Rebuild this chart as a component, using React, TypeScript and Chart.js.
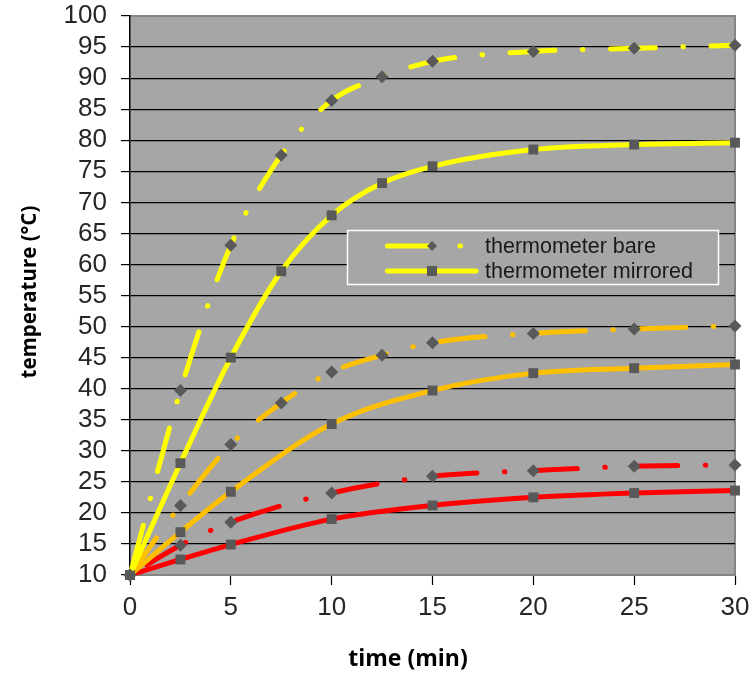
import React, { useEffect, useRef } from "react";
import { Chart, registerables } from "chart.js";

Chart.register(...registerables);

// time axis (min)
const timesFull = [0, 2.5, 5, 7.5, 10, 12.5, 15, 20, 25, 30];
const timesShort = [0, 2.5, 5, 10, 15, 20, 25, 30];

// temperatures (°C)
const yellowBare = [10, 39.7, 63.1, 77.6, 86.4, 90.2, 92.7, 94.3, 94.8, 95.3];
const yellowMirrored = [10, 28.0, 45.0, 58.9, 67.9, 73.1, 75.8, 78.5, 79.3, 79.6];
const orangeBare = [10, 21.2, 31.0, 37.7, 42.7, 45.4, 47.4, 48.9, 49.6, 50.1];
const orangeMirrored = [10, 16.9, 23.4, 34.3, 39.7, 42.5, 43.3, 43.9];
const redBare = [10, 14.8, 18.5, 23.2, 25.9, 26.8, 27.5, 27.7];
const redMirrored = [10, 12.5, 14.9, 19.0, 21.2, 22.5, 23.2, 23.6];

const xTickValues = [0, 5, 10, 15, 20, 25, 30];
const yTickValues = [10, 15, 20, 25, 30, 35, 40, 45, 50, 55, 60, 65, 70, 75, 80, 85, 90, 95, 100];

const legendLabels = ["thermometer bare", "thermometer mirrored"];
const xTitle = "time (min)";
const yTitle = "temperature (°C)";

const YELLOW = "#ffff00";
const ORANGE = "#ffc000";
const RED = "#ff0000";
const MARKER = "#595959";
const PLOT_BG = "#a6a6a6";
const BARE_DASH = [45, 27.5, 0.5, 27.5];
const DASH_PERIOD = BARE_DASH.reduce((a, b) => a + b, 0);

const pts = (xs: number[], ys: number[]) => xs.map((x, i) => ({ x, y: ys[i] }));

const bareStyle = (color: string) => ({
  borderColor: color,
  borderWidth: 5,
  borderDash: BARE_DASH,
  borderDashOffset: 0,
  borderCapStyle: "round" as const,
  pointStyle: "rectRot" as const,
  pointRadius: 6.5,
  pointBackgroundColor: MARKER,
  pointBorderColor: MARKER,
  pointBorderWidth: 0,
  cubicInterpolationMode: "monotone" as const,
  clip: false as const,
});

const mirroredStyle = (color: string) => ({
  borderColor: color,
  borderWidth: 5,
  borderCapStyle: "round" as const,
  pointStyle: "rect" as const,
  pointRadius: 7,
  pointBackgroundColor: MARKER,
  pointBorderColor: MARKER,
  pointBorderWidth: 0,
  cubicInterpolationMode: "monotone" as const,
  clip: false as const,
});

// dash phase: [dataset index, anchor point index, shift along the curve in px]
const dashAnchors: [number, number, number][] = [
  [0, 6, -22.5],
  [2, 7, 7],
  [4, 5, -1],
];

const plotFrame = {
  id: "plotFrame",
  beforeDraw(chart: any) {
    const { ctx, chartArea: a } = chart;
    ctx.save();
    ctx.fillStyle = PLOT_BG;
    ctx.fillRect(a.left, a.top, a.right - a.left, a.bottom - a.top);
    ctx.strokeStyle = "#858585";
    ctx.lineWidth = 2;
    ctx.beginPath();
    ctx.moveTo(a.left, a.top);
    ctx.lineTo(a.right, a.top);
    ctx.lineTo(a.right, a.bottom);
    ctx.stroke();
    ctx.restore();
  },
};

const axisTitles = {
  id: "axisTitles",
  afterDraw(chart: any) {
    const { ctx } = chart;
    ctx.save();
    ctx.fillStyle = "#000";
    ctx.textAlign = "center";
    ctx.textBaseline = "middle";
    ctx.font = "bold 23px 'Open Sans', sans-serif";
    ctx.fillText(xTitle, 408, 659);
    ctx.translate(30, 292);
    ctx.rotate(-Math.PI / 2);
    ctx.font = "bold 20.5px 'Open Sans', sans-serif";
    ctx.fillText(yTitle, 0, 0);
    ctx.restore();
  },
};

const boxLegend = {
  id: "boxLegend",
  afterDraw(chart: any) {
    const { ctx } = chart;
    const bx = 347.5, by = 230.5, bw = 371, bh = 54;
    ctx.save();
    ctx.fillStyle = PLOT_BG;
    ctx.fillRect(bx, by, bw, bh);
    ctx.strokeStyle = "#ffffff";
    ctx.lineWidth = 1.5;
    ctx.strokeRect(bx, by, bw, bh);
    const rows = [246, 271];
    const x0 = 387.5, x1 = 476;
    const mx = 432;
    rows.forEach((ry, i) => {
      ctx.strokeStyle = YELLOW;
      ctx.lineWidth = 5;
      ctx.lineCap = "round";
      ctx.setLineDash(i === 0 ? BARE_DASH : []);
      ctx.lineDashOffset = 0;
      ctx.beginPath();
      ctx.moveTo(x0, ry);
      ctx.lineTo(x1, ry);
      ctx.stroke();
      ctx.setLineDash([]);
      ctx.fillStyle = MARKER;
      if (i === 0) {
        const r = 5;
        ctx.beginPath();
        ctx.moveTo(mx, ry - r);
        ctx.lineTo(mx + r, ry);
        ctx.lineTo(mx, ry + r);
        ctx.lineTo(mx - r, ry);
        ctx.closePath();
        ctx.fill();
      } else {
        ctx.fillRect(mx - 5, ry - 5, 10, 10);
      }
      ctx.fillStyle = "#1a1a1a";
      ctx.font = "21.5px 'Liberation Sans', Arial, sans-serif";
      ctx.textAlign = "left";
      ctx.textBaseline = "middle";
      ctx.fillText(legendLabels[i], 485, ry + 1);
    });
    ctx.restore();
  },
};

// arc length along the drawn (bezier) line up to a given point index
function arcLengthTo(meta: any, upto: number): number {
  const p = meta.data;
  let total = 0;
  for (let i = 0; i < upto; i++) {
    const a = p[i], b = p[i + 1];
    const c1x = a.cp2x ?? a.x, c1y = a.cp2y ?? a.y;
    const c2x = b.cp1x ?? b.x, c2y = b.cp1y ?? b.y;
    let px = a.x, py = a.y;
    const N = 200;
    for (let k = 1; k <= N; k++) {
      const t = k / N, u = 1 - t;
      const x = u * u * u * a.x + 3 * u * u * t * c1x + 3 * u * t * t * c2x + t * t * t * b.x;
      const y = u * u * u * a.y + 3 * u * u * t * c1y + 3 * u * t * t * c2y + t * t * t * b.y;
      total += Math.hypot(x - px, y - py);
      px = x; py = y;
    }
  }
  return total;
}

export default function App() {
  const ref = useRef<HTMLCanvasElement | null>(null);
  useEffect(() => {
    if (!ref.current) return;
    const chart = new Chart(ref.current, {
      type: "line",
      data: {
        datasets: [
          { label: legendLabels[0] + " (yellow)", data: pts(timesFull, yellowBare), ...bareStyle(YELLOW) },
          { label: legendLabels[1] + " (yellow)", data: pts(timesFull, yellowMirrored), ...mirroredStyle(YELLOW) },
          { label: legendLabels[0] + " (orange)", data: pts(timesFull, orangeBare), ...bareStyle(ORANGE) },
          { label: legendLabels[1] + " (orange)", data: pts(timesShort, orangeMirrored), ...mirroredStyle(ORANGE) },
          { label: legendLabels[0] + " (red)", data: pts(timesShort, redBare), ...bareStyle(RED) },
          { label: legendLabels[1] + " (red)", data: pts(timesShort, redMirrored), ...mirroredStyle(RED) },
        ] as any,
      },
      options: {
        animation: false,
        responsive: false,
        devicePixelRatio: 1,
        layout: { padding: { top: 16, right: 18, bottom: 0, left: 0 } },
        plugins: { legend: { display: false }, tooltip: { enabled: false } },
        scales: {
          x: {
            type: "linear",
            min: 0,
            max: 30,
            afterFit: (s: any) => { s.height = 99; s.paddingLeft = 0; s.paddingRight = 0; },
            afterBuildTicks: (s: any) => { s.ticks = xTickValues.map((v) => ({ value: v })); },
            grid: { drawOnChartArea: false, drawTicks: true, tickLength: 10, tickColor: "#000", tickWidth: 1.2 },
            border: { display: true, color: "#858585", width: 2 },
            ticks: {
              color: "#262626",
              padding: 7,
              maxRotation: 0,
              autoSkip: false,
              font: { family: "'Liberation Sans', Arial, sans-serif", size: 26 },
            },
            title: { display: false, text: xTitle },
          },
          y: {
            type: "linear",
            min: 10,
            max: 100,
            afterFit: (s: any) => { s.width = 130; s.paddingTop = 0; s.paddingBottom = 0; },
            afterBuildTicks: (s: any) => { s.ticks = yTickValues.map((v) => ({ value: v })); },
            grid: {
              color: (c: any) => (c.tick && (c.tick.value === 10 || c.tick.value === 100) ? "rgba(0,0,0,0)" : "#000"),
              lineWidth: 1.2,
              tickLength: 9,
              tickColor: "#000",
              tickWidth: 1.2,
            },
            border: { display: true, color: "#000", width: 1.5 },
            ticks: {
              color: "#262626",
              padding: 14,
              autoSkip: false,
              font: { family: "'Liberation Sans', Arial, sans-serif", size: 26 },
            },
            title: { display: false, text: yTitle },
          },
        },
      } as any,
      plugins: [plotFrame, axisTitles, boxLegend],
    });
    // align the dash phase of the dash-dot lines with the marker positions
    dashAnchors.forEach(([di, pi, shift]) => {
      const meta = chart.getDatasetMeta(di);
      const s = arcLengthTo(meta, pi) + shift;
      const off = ((-s % DASH_PERIOD) + DASH_PERIOD) % DASH_PERIOD;
      (chart.data.datasets[di] as any).borderDashOffset = off;
    });
    chart.update();
    return () => chart.destroy();
  }, []);
  return (
    <div style={{ position: "fixed", left: 0, top: 0, width: 753, height: 674, background: "#fff" }}>
      <canvas ref={ref} width={753} height={674} style={{ width: 753, height: 674, display: "block" }} />
    </div>
  );
}
